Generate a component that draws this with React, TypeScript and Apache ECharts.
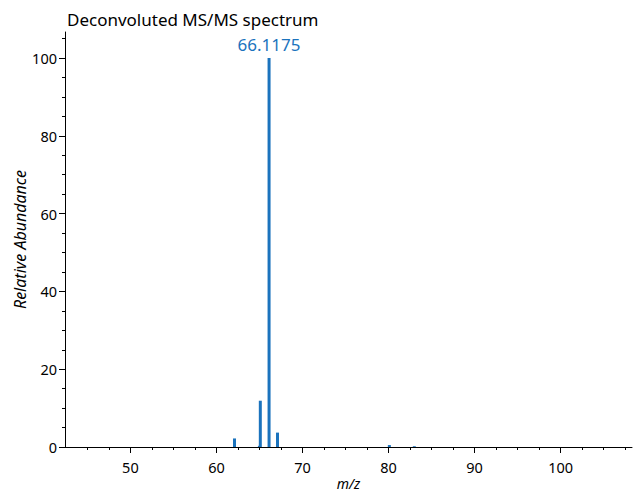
import React, { useEffect, useRef } from "react";
import * as echarts from "echarts";

const mzValues = [62.1, 65.0, 65.1, 66.1175, 67.1, 80.1, 83.0];
const abundances = [2.2, 0.3, 11.9, 100, 3.7, 0.5, 0.2];
const xMajorTicks = [50, 60, 70, 80, 90, 100];
const xMinorTicks = [45, 47.5, 52.5, 55, 57.5, 62.5, 65, 67.5, 72.5, 75, 77.5, 82.5, 85, 87.5, 92.5, 95, 97.5, 102.5, 105, 107.5];
const yMajorTicks = [0, 20, 40, 60, 80, 100];
const yMinorTicks = [5, 10, 15, 25, 30, 35, 45, 50, 55, 65, 70, 75, 85, 90, 95, 105];
const peakLabel = "66.1175";

const BLUE = "#1b73bd";
const FONT = "Noto Sans";

export default function App() {
  const ref = useRef<HTMLDivElement>(null);
  useEffect(() => {
    if (!ref.current) return;
    const chart = echarts.init(ref.current, null, { renderer: "svg" });
    const xMin = 42.4, xMax = 108.3, yMin = 0, yMax = 106.7;
    const baseX = {
      type: "value",
      min: xMin,
      max: xMax,
      position: "bottom",
      splitLine: { show: false },
    };
    const baseY = {
      type: "value",
      min: yMin,
      max: yMax,
      position: "left",
      splitLine: { show: false },
    };
    const maxIdx = abundances.indexOf(Math.max(...abundances));
    chart.setOption({
      animation: false,
      textStyle: { fontFamily: FONT },
      title: {
        text: "Deconvoluted MS/MS spectrum",
        left: 62,
        top: 6,
        textStyle: { fontFamily: FONT, fontSize: 17, fontWeight: "normal", color: "#000" },
      },
      grid: { left: 65, right: 1, top: 32, bottom: 47, containLabel: false, outerBoundsMode: "none" },
      xAxis: [
        {
          ...baseX,
          name: "m/z",
          nameLocation: "middle",
          nameGap: 29,
          nameMoveOverlap: false,
          nameTextStyle: { fontFamily: FONT, fontStyle: "italic", fontSize: 14, color: "#000" },
          axisLine: { show: true, lineStyle: { color: "#000", width: 1 } },
          axisTick: { show: true, length: 6, customValues: xMajorTicks, lineStyle: { color: "#000" } },
          axisLabel: { show: true, customValues: xMajorTicks, fontFamily: FONT, fontSize: 14.5, color: "#000", margin: 12 },
        },
        {
          ...baseX,
          axisLine: { show: false },
          axisTick: { show: true, length: 3, customValues: xMinorTicks, lineStyle: { color: "#000" } },
          axisLabel: { show: false },
        },
      ],
      yAxis: [
        {
          ...baseY,
          name: "Relative Abundance",
          nameLocation: "middle",
          nameGap: 37,
          nameMoveOverlap: false,
          nameTextStyle: { fontFamily: FONT, fontStyle: "italic", fontSize: 16, color: "#000" },
          axisLine: { show: true, lineStyle: { color: "#000", width: 1 } },
          axisTick: { show: true, length: 6, customValues: yMajorTicks, lineStyle: { color: "#000" } },
          axisLabel: { show: true, customValues: yMajorTicks, fontFamily: FONT, fontSize: 14.5, color: "#000", margin: 8 },
        },
        {
          ...baseY,
          axisLine: { show: false },
          axisTick: { show: true, length: 3, customValues: yMinorTicks, lineStyle: { color: "#000" } },
          axisLabel: { show: false },
        },
      ],
      series: [
        {
          type: "bar",
          xAxisIndex: 0,
          yAxisIndex: 0,
          barWidth: 3,
          itemStyle: { color: BLUE },
          data: mzValues.map((x, i) =>
            i === maxIdx
              ? {
                  value: [x, abundances[i]],
                  label: {
                    show: true,
                    position: "top",
                    distance: 5,
                    formatter: peakLabel,
                    color: BLUE,
                    fontFamily: FONT,
                    fontSize: 17,
                  },
                }
              : { value: [x, abundances[i]] }
          ),
        },
      ],
    });
    return () => chart.dispose();
  }, []);
  return <div ref={ref} style={{ width: 633, height: 494, position: "absolute", left: 0, top: 0 }} />;
}
